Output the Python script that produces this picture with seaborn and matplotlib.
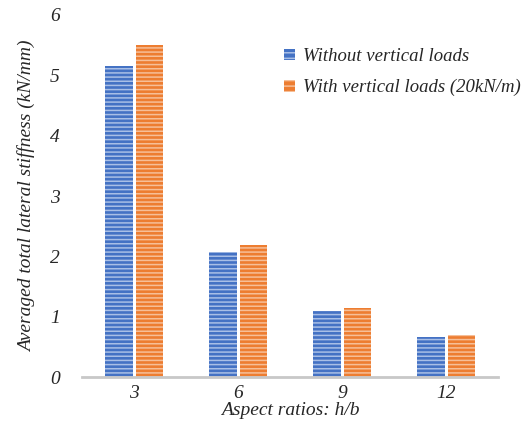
import matplotlib
matplotlib.use("Agg")
import matplotlib.pyplot as plt
import seaborn as sns
import pandas as pd

categories = ["3", "6", "9", "12"]
without_loads = [5.16, 2.07, 1.09, 0.66]
with_loads = [5.50, 2.19, 1.14, 0.70]
series_names = ["Without vertical loads", "With vertical loads (20kN/m)"]

df = pd.DataFrame({
    "ratio": categories * 2,
    "value": without_loads + with_loads,
    "series": [series_names[0]] * 4 + [series_names[1]] * 4,
})

sns.set_theme(style="white")
plt.rcParams["font.family"] = ["Liberation Serif", "DejaVu Serif"]
plt.rcParams["hatch.linewidth"] = 1.1

fig = plt.figure(figsize=(5.29, 4.38), dpi=100)
ax = fig.add_axes([0.155, 0.139, 0.787, 0.827])

colors = ["#4472C4", "#ED7D31"]
hatch_cols = ["#a9bfe6", "#f6bf98"]
sns.barplot(data=df, x="ratio", y="value", hue="series", order=categories,
            hue_order=series_names, palette=colors, width=0.59, gap=0.1,
            ax=ax, saturation=1)

for i, cont in enumerate(ax.containers):
    for bar in cont:
        bar.set_hatch("----")
        bar.set_edgecolor(hatch_cols[i])
        bar.set_linewidth(0)

ax.set_ylim(0, 6)
ax.set_xlim(-0.5, 3.5)
ax.set_yticks(range(0, 7))
ax.tick_params(axis="y", length=0, labelsize=14, pad=16)
ax.tick_params(axis="x", length=0, labelsize=14, pad=6)
for lab in ax.get_xticklabels() + ax.get_yticklabels():
    lab.set_fontstyle("italic")
ax.set_xlabel("Aspect ratios: h/b", fontsize=14, fontstyle="italic", labelpad=0)
ax.set_ylabel("Averaged total lateral stiffness (kN/mm)", fontsize=14,
              fontstyle="italic", labelpad=10)
for s in ["top", "right", "left"]:
    ax.spines[s].set_visible(False)
ax.spines["bottom"].set_color("#c8c8c8")
ax.spines["bottom"].set_linewidth(2)

leg = ax.legend(loc="upper left", bbox_to_anchor=(0.445, 0.955), frameon=False,
                prop={"style": "italic", "size": 13.5}, handlelength=0.6,
                handleheight=0.6, handletextpad=0.4, labelspacing=0.75)
for i, h in enumerate(leg.legend_handles):
    h.set_hatch("---")
    h.set_edgecolor(hatch_cols[i])
    h.set_linewidth(0)

fig.savefig("out.png", dpi=100)
